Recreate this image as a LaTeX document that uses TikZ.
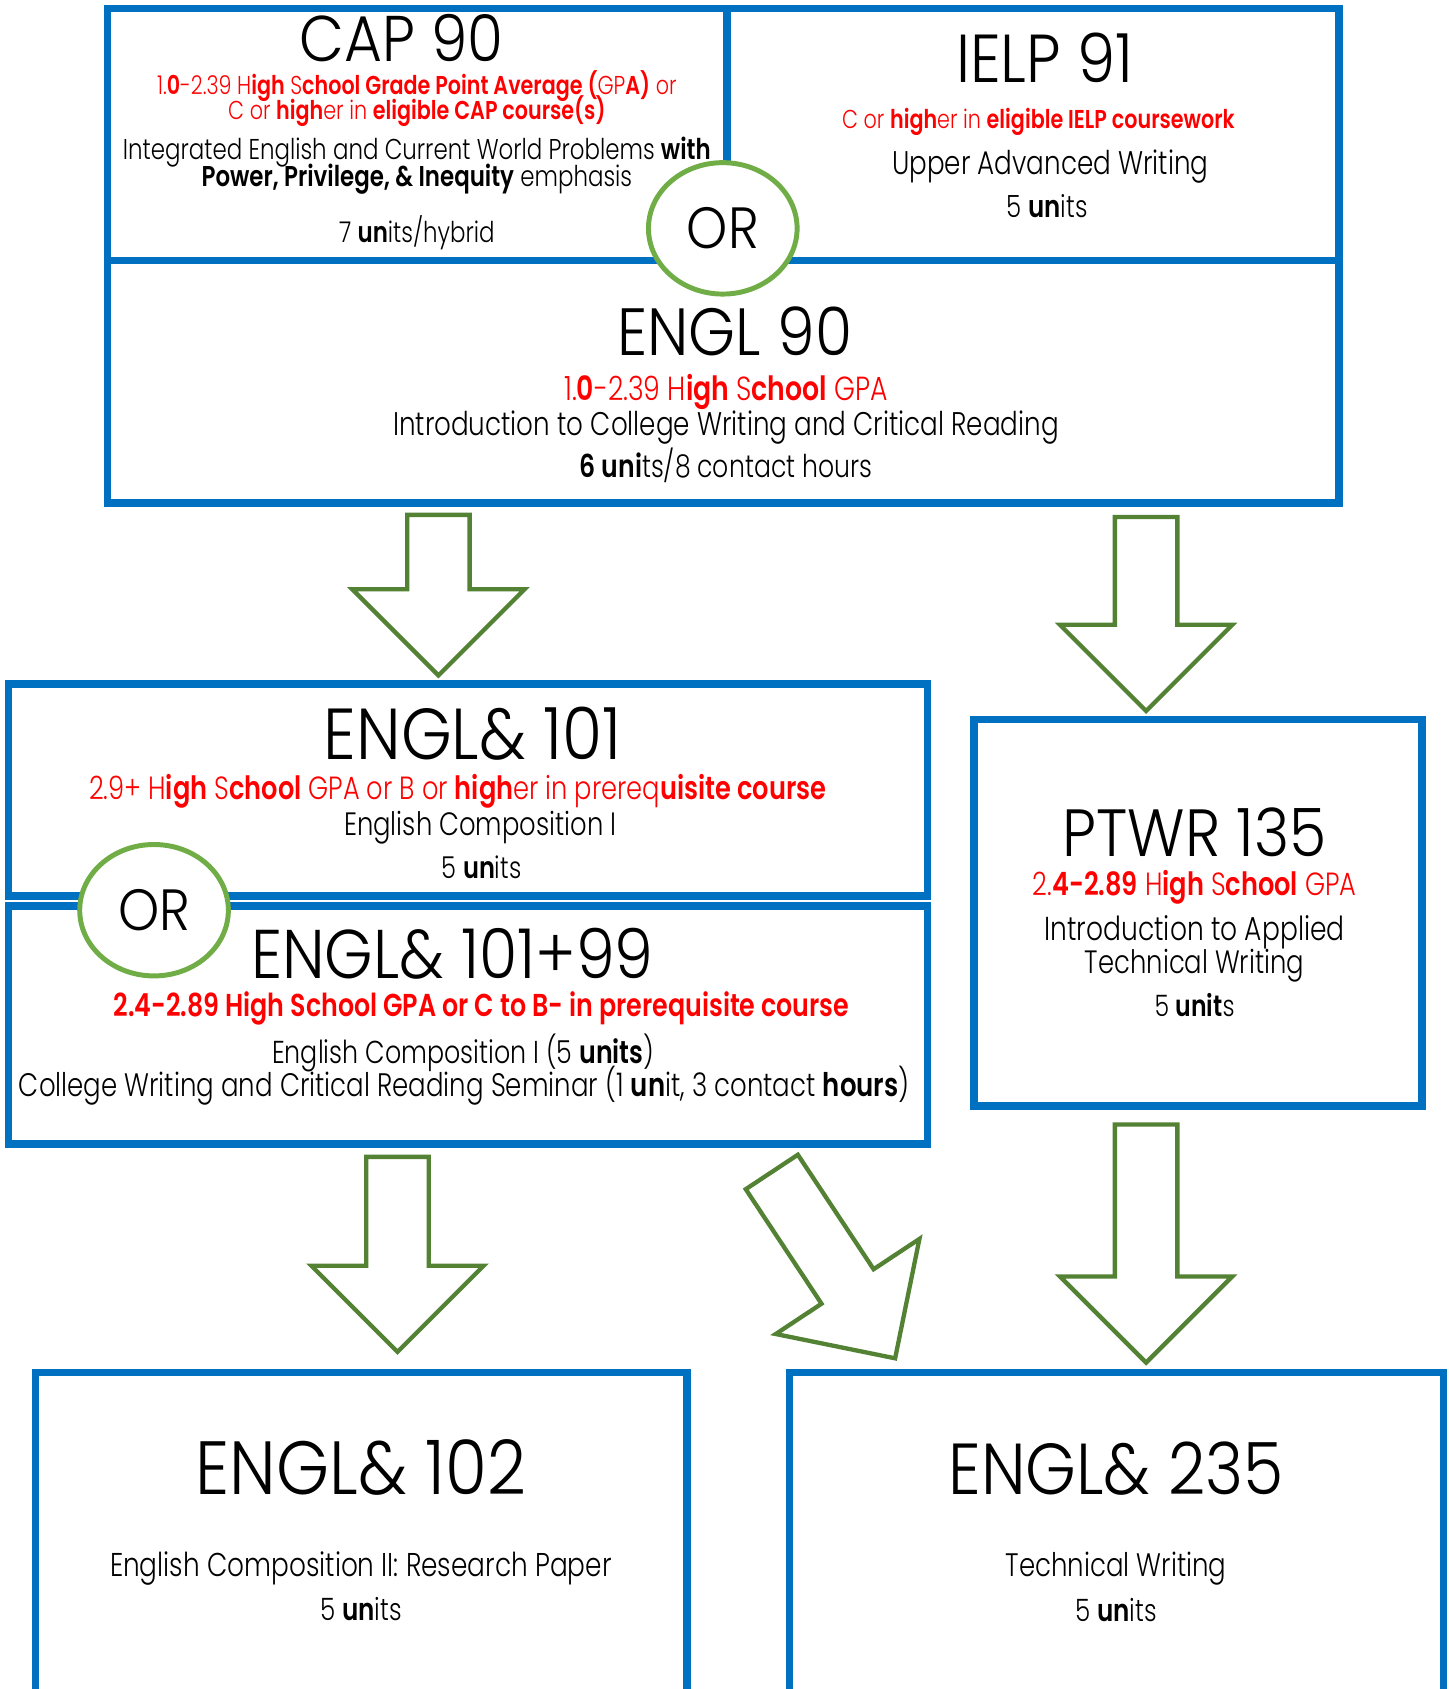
\documentclass[tikz,border=0pt]{standalone}
\usepackage{fontspec}
\setmainfont{Poppins Light}[BoldFont={Poppins SemiBold}]
\newfontfamily\condfont{Poppins Light}[FakeStretch=0.8,BoldFont={Poppins SemiBold}]
\newfontfamily\titlefont{Poppins Light}[FakeStretch=0.9]
\usetikzlibrary{shapes.geometric,fit,calc}
\definecolor{boxblue}{HTML}{0070C0}
\definecolor{reqred}{HTML}{FF0000}
\definecolor{orgreen}{HTML}{70AD47}
\definecolor{arrowgreen}{HTML}{548235}
\newcommand{\fsz}[1]{\fontsize{#1}{#1}\selectfont}
\tikzset{
    box/.style={draw=boxblue, line width=3.5pt, inner sep=0pt},
    orbubble/.style={ellipse, draw=orgreen, line width=2.3pt, fill=white, inner sep=0pt,
        minimum width=69pt, minimum height=61pt, font=\titlefont\fsz{27}},
    title/.style={anchor=base, inner sep=0pt, text depth=0pt, font=\titlefont\fsz{31.5}},
    req/.style={anchor=base, inner sep=0pt, text=reqred, font=\condfont\fsz{15}},
    desc/.style={anchor=base, inner sep=0pt, font=\condfont\fsz{15}},
    blockarrow/.style={draw=arrowgreen, line width=2pt, line join=miter, fill=white}
}
% block arrow from #1 (tail) to #2 (tip)
\newcommand{\blockarrow}[2]{%
    \coordinate (#2-base) at ($(#2)!40pt!(#1)$);
    \draw[blockarrow] ($(#1)!14.5pt!90:(#2)$) -- ($(#2-base)!14.5pt!90:(#2)$)
        -- ($(#2-base)!40pt!90:(#2)$) -- (#2) -- ($(#2-base)!40pt!-90:(#2)$)
        -- ($(#2-base)!14.5pt!-90:(#2)$) -- ($(#1)!14.5pt!-90:(#2)$) -- cycle;}

\begin{document}
\begin{tikzpicture}[x=0.5pt, y=-0.5pt]
    \useasboundingbox (0,0) rectangle (1345,1568);
    \clip (0,0) rectangle (1345,1568);

    % boxes
    \node[box, fit={(100,8) (675,242)}] (cap) {};
    \node[box, fit={(675,8) (1243,242)}] (ielp) {};
    \node[box, fit={(100,242) (1243,467)}] (engl90) {};
    \node[box, fit={(8,635) (861,832)}] (engl101) {};
    \node[box, fit={(8,841) (861,1062)}] (engl101x) {};
    \node[box, fit={(904,668) (1320,1027)}] (ptwr) {};
    \node[box, fit={(33,1274) (638,1620)}] (engl102) {};
    \node[box, fit={(733,1274) (1340,1620)}] (engl235) {};

    \node[orbubble] (or1) at (671,212) {OR};
    \node[orbubble] (or2) at (143,845) {OR};

    % CAP 90
    \node[title, font=\titlefont\fsz{30}] (cap-t) at (373,57) {CAP 90};
    \node[req, font=\condfont\fsz{12}] (cap-r1) at (387,88)
        {1.\textbf{0}-2.39 H\textbf{igh} S\textbf{chool Grade Point Average (}GP\textbf{A)} or};
    \node[req, font=\condfont\fsz{12}] (cap-r2) at (387,111)
        {C or \textbf{high}er in \textbf{eligible CAP course(s)}};
    \node[desc, font=\condfont\fsz{13.3}] (cap-d1) at (387,148)
        {Integrated English and Current World Problems \textbf{with}};
    \node[desc, font=\condfont\fsz{13.3}] (cap-d2) at (387,173)
        {\textbf{Power, Privilege, \& Inequity} emphasis};
    \node[desc, font=\condfont\fsz{13.3}] (cap-u) at (387,225) {7 \textbf{un}its/hybrid};

    % IELP 91
    \node[title] (ielp-t) at (970,77) {IELP 91};
    \node[req, font=\condfont\fsz{12}] (ielp-r) at (964,119)
        {C or \textbf{high}er in \textbf{eligible IELP coursework}};
    \node[desc, font=\condfont\fsz{15.2}] (ielp-d) at (975,162) {Upper Advanced Writing};
    \node[desc, font=\condfont\fsz{14.2}] (ielp-u) at (972,202) {5 \textbf{un}its};

    % ENGL 90
    \node[title, font=\titlefont\fsz{31}] (engl90-t) at (682,330) {ENGL 90};
    \node[req, font=\condfont\fsz{15.5}] (engl90-r) at (674,372)
        {1.\textbf{0}-2.39 H\textbf{igh} S\textbf{chool} GPA};
    \node[desc, font=\condfont\fsz{15.2}] (engl90-d) at (674,404)
        {Introduction to College Writing and Critical Reading};
    \node[desc, font=\condfont\fsz{14.6}] (engl90-u) at (674,443) {\textbf{6 uni}ts/8 contact hours};

    % ENGL& 101
    \node[title, font=\titlefont\fsz{33.5}] (engl101-t) at (439,705) {ENGL\& 101};
    \node[req, font=\condfont\fsz{14.9}] (engl101-r) at (425,742)
        {2.9+ H\textbf{igh} S\textbf{chool} GPA or B or \textbf{high}er in prereq\textbf{uisite course}};
    \node[desc] (engl101-d) at (446,776) {English Composition I};
    \node[desc, font=\condfont\fsz{14}] (engl101-u) at (447,816) {5 \textbf{un}its};

    % ENGL& 101+99
    \node[title, font=\titlefont\fsz{32}] (engl101x-t) at (420,908) {ENGL\& 101+99};
    \node[req, font=\condfont\fsz{14.7}] (engl101x-r) at (447,944)
        {\textbf{2.4-2.89 High School GPA or C to B- in prerequisite course}};
    \node[desc, font=\condfont\fsz{14.7}] (engl101x-d1) at (430,987)
        {English Composition I (5 \textbf{units})};
    \node[desc, font=\condfont\fsz{15.1}] (engl101x-d2) at (431,1018)
        {College Writing and Critical Reading Seminar (1 \textbf{un}it, 3 contact \textbf{hours})};

    % PTWR 135
    \node[title, font=\titlefont\fsz{31}] (ptwr-t) at (1109,795) {PTWR 135};
    \node[req, font=\condfont\fsz{14.9}] (ptwr-r) at (1109,831)
        {2.\textbf{4-2.89} H\textbf{igh} S\textbf{chool} GPA};
    \node[desc, font=\condfont\fsz{15.4}] (ptwr-d1) at (1109,873) {Introduction to Applied};
    \node[desc] (ptwr-d2) at (1109,904) {Technical Writing};
    \node[desc, font=\condfont\fsz{13.7}] (ptwr-u) at (1109,944) {5 \textbf{unit}s};

    % ENGL& 102
    \node[title, font=\titlefont\fsz{35}] (engl102-t) at (335,1387) {ENGL\& 102};
    \node[desc, font=\condfont\fsz{15.3}] (engl102-d) at (335,1464) {English Composition II: Research Paper};
    \node[desc, font=\condfont\fsz{14.3}] (engl102-u) at (335,1504) {5 \textbf{un}its};

    % ENGL& 235
    \node[title, font=\titlefont\fsz{33.5}] (engl235-t) at (1036,1387) {ENGL\& 235};
    \node[desc, font=\condfont\fsz{15.1}] (engl235-d) at (1036,1464) {Technical Writing};
    \node[desc, font=\condfont\fsz{14.3}] (engl235-u) at (1036,1505) {5 \textbf{un}its};

    % arrows
    \coordinate (a1s) at (407,478);   \coordinate (a1e) at (407,627);
    \coordinate (a2s) at (1064,480);  \coordinate (a2e) at (1064,660);
    \coordinate (a3s) at (369,1074);  \coordinate (a3e) at (369,1255);
    \coordinate (a4s) at (716.5,1088); \coordinate (a4e) at (831,1261);
    \coordinate (a5s) at (1064,1044); \coordinate (a5e) at (1064,1265);
    \blockarrow{a1s}{a1e}
    \blockarrow{a2s}{a2e}
    \blockarrow{a3s}{a3e}
    \blockarrow{a4s}{a4e}
    \blockarrow{a5s}{a5e}
\end{tikzpicture}
\end{document}
